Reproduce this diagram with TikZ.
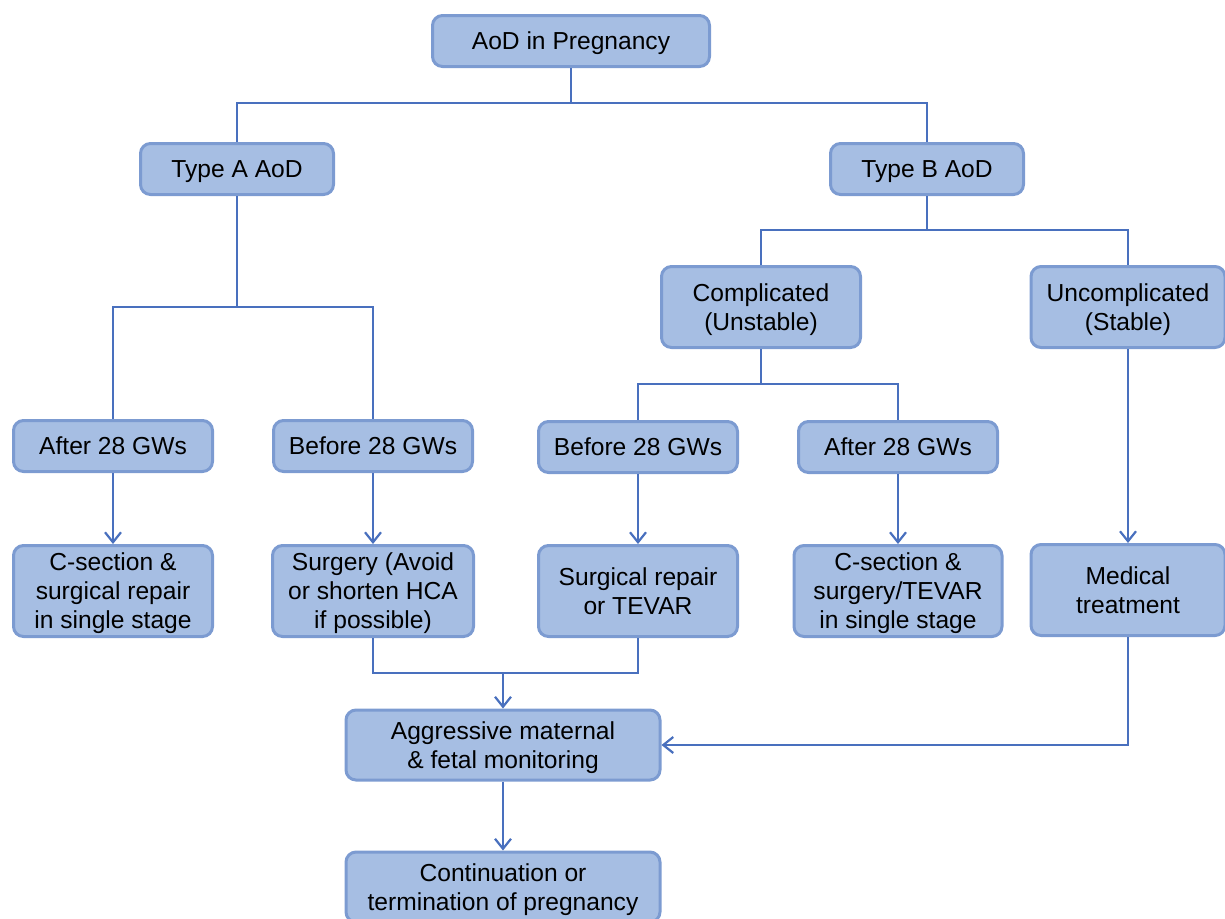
\documentclass[tikz,border=0pt]{standalone}
\usepackage{fontspec}
\setmainfont{Liberation Sans}
\usetikzlibrary{arrows.meta}
\definecolor{boxfill}{RGB}{166,190,227}
\definecolor{boxline}{RGB}{124,155,209}
\definecolor{conn}{RGB}{73,112,190}
\begin{document}
\begin{tikzpicture}[x=0.5pt,y=-0.5pt,
  box/.style={draw=boxline, fill=boxfill, line width=1.5pt, rounded corners=5pt,
    inner sep=0pt, align=center, text depth=-1pt, font=\fontsize{12.3}{14.5}\selectfont},
  link/.style={draw=conn, line width=1.1pt},
  arr/.style={link, -{Straight Barb[length=5pt,width=8pt,line width=1.1pt]}}]
\useasboundingbox (0,0) rectangle (1225,918);

\node[box, minimum width=138.5pt, minimum height=25.5pt] (root) at (571,41) {AoD in Pregnancy};
\node[box, minimum width=96.5pt, minimum height=25.5pt] (ta) at (237,169) {Type A AoD};
\node[box, minimum width=96.5pt, minimum height=25.5pt] (tb) at (927,169) {Type B AoD};
\node[box, minimum width=99.5pt, minimum height=40.5pt] (comp) at (761,307) {Complicated\\(Unstable)};
\node[box, minimum width=97pt, minimum height=40.5pt] (unc) at (1128,307) {Uncomplicated\\(Stable)};

\node[box, minimum width=99.5pt, minimum height=25.5pt] (a28) at (113,446) {After 28 GWs};
\node[box, minimum width=99.5pt, minimum height=25.5pt] (b28a) at (373,446) {Before 28 GWs};
\node[box, minimum width=99.5pt, minimum height=25.5pt] (b28b) at (638,447) {Before 28 GWs};
\node[box, minimum width=99.5pt, minimum height=25.5pt] (a28b) at (898,447) {After 28 GWs};

\node[box, minimum width=99.5pt, minimum height=45.5pt] (csa) at (113,591) {C-section \&\\surgical repair\\in single stage};
\node[box, minimum width=100.5pt, minimum height=45.5pt] (surg) at (373,591) {Surgery (Avoid\\or shorten HCA\\if possible)};
\node[box, minimum width=99.5pt, minimum height=45.5pt] (srep) at (638,591) {Surgical repair\\or TEVAR};
\node[box, minimum width=104pt, minimum height=45.5pt] (csb) at (898,591) {C-section \&\\surgery/TEVAR\\in single stage};
\node[box, minimum width=97pt, minimum height=45.5pt] (med) at (1128,590) {Medical\\treatment};

\node[box, minimum width=157pt, minimum height=35pt] (agg) at (503,745) {Aggressive maternal\\\& fetal monitoring};
\node[box, minimum width=157pt, minimum height=35pt] (cont) at (503,887) {Continuation or\\termination of pregnancy};

\draw[link] (root.south) -- ++(0,35) -| (ta.north);
\draw[link] (root.south) -- ++(0,35) -| (tb.north);
\draw[link] (ta.south) -- ++(0,111) -| (a28.north);
\draw[link] (ta.south) -- ++(0,111) -| (b28a.north);
\draw[link] (tb.south) -- ++(0,34) -| (comp.north);
\draw[link] (tb.south) -- ++(0,34) -| (unc.north);
\draw[link] (comp.south) -- ++(0,35) -| (b28b.north);
\draw[link] (comp.south) -- ++(0,35) -| (a28b.north);

\draw[arr] (a28.south) -- (csa.north);
\draw[arr] (b28a.south) -- (surg.north);
\draw[arr] (b28b.south) -- (srep.north);
\draw[arr] (a28b.south) -- (csb.north);
\draw[arr] (unc.south) -- (med.north);

\coordinate (j) at (503,673);
\draw[link] (surg.south) |- (j) -| (srep.south);
\draw[arr] (j) -- (agg.north);
\draw[arr] (med.south) |- (agg.east);
\draw[arr] (agg.south) -- (cont.north);
\end{tikzpicture}
\end{document}
